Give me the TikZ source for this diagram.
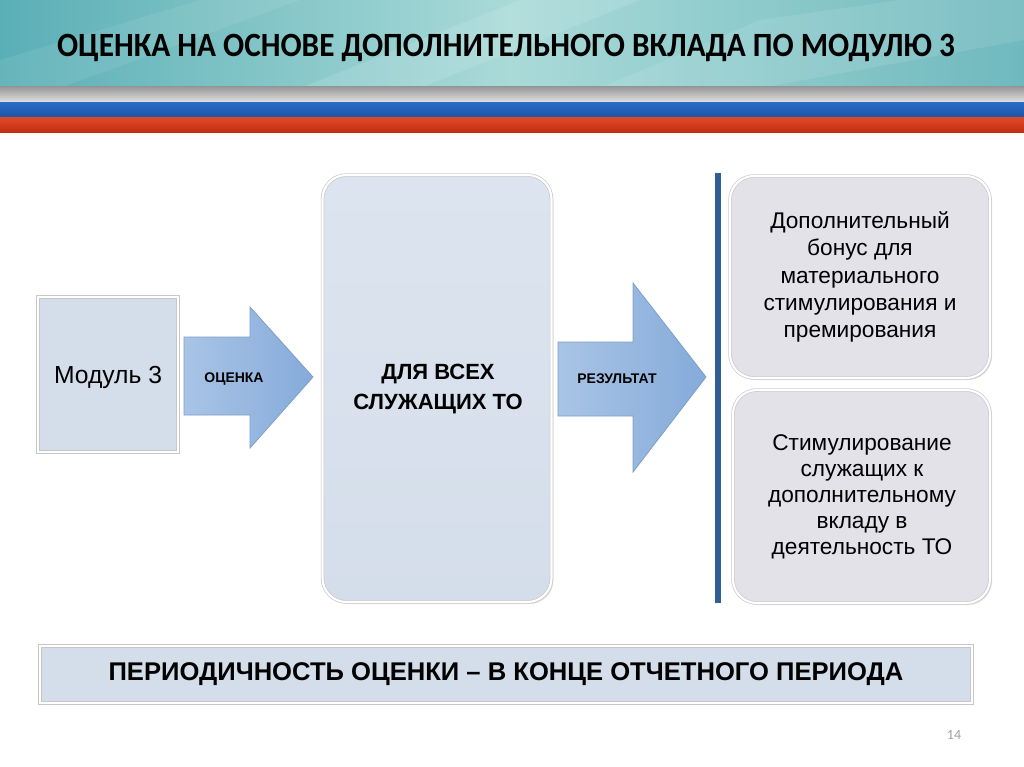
\documentclass[tikz,border=0pt]{standalone}
\usepackage{fontspec}
\setmainfont{Liberation Sans}
\newfontfamily\titlefont{Carlito}
\usepackage{graphicx}
\usetikzlibrary{shadows}
\definecolor{hdrL}{HTML}{5AAFB6}
\definecolor{hdrM}{HTML}{A9DAD8}
\definecolor{hdrR}{HTML}{6FB9BE}
\definecolor{stripeBlueA}{HTML}{2A6CC8}
\definecolor{stripeBlueB}{HTML}{1B55A8}
\definecolor{stripeRedA}{HTML}{DE4A28}
\definecolor{stripeRedB}{HTML}{C42E14}
\definecolor{boxBlue}{HTML}{D4DEEA}
\definecolor{boxBlueTop}{HTML}{DCE4EF}
\definecolor{boxGray}{HTML}{E3E2E9}
\definecolor{arrowL}{HTML}{A9C4E6}
\definecolor{arrowR}{HTML}{85ABDA}
\definecolor{arrowEdge}{HTML}{7F9FC8}
\definecolor{barBlue}{HTML}{2F5E97}
\definecolor{pageGray}{HTML}{A0A0A0}
\tikzset{
  softshadow/.style={drop shadow={opacity=0.25, shadow xshift=1.5pt, shadow yshift=-1.5pt}},
  plainbox/.style={draw=black!22, double=white, double distance=1.6pt, line width=0.5pt, fill=boxBlue, softshadow, inner sep=0pt, align=center},
  roundbox/.style={plainbox, rounded corners=18pt},
  grayround/.style={roundbox, fill=boxGray},
  arrowshape/.style={draw=arrowEdge, line width=0.6pt, left color=arrowL, right color=arrowR},
  arrowtext/.style={font=\bfseries\fontsize{10.5}{12}\selectfont},
  bodytext/.style={font=\fontsize{17}{20.5}\selectfont, align=center}
}
\begin{document}
\begin{tikzpicture}[x=0.75pt,y=-0.75pt]
\useasboundingbox (0,0) rectangle (1024,767);
\fill[white] (0,0) rectangle (1024,767);
% header
\shade[left color=hdrL, right color=hdrR, middle color=hdrM] (0,0) rectangle (1024,88);
\fill[white, opacity=0.12] (300,88) -- (520,0) -- (640,0) -- (420,88) -- cycle;
\fill[white, opacity=0.10] (600,88) -- (760,20) -- (900,0) -- (1024,0) -- (1024,40) -- (760,88) -- cycle;
\fill[white, opacity=0.08] (0,60) -- (200,0) -- (300,0) -- (60,88) -- (0,88) -- cycle;
\shade[top color=black!40, bottom color=black!12] (0,87) rectangle (1024,102);
\shade[top color=stripeBlueA, bottom color=stripeBlueB] (0,102) rectangle (1024,117);
\shade[top color=stripeRedA, bottom color=stripeRedB] (0,117) rectangle (1024,132);
\node (title) at (506,48) {\scalebox{0.92}[1]{\titlefont\bfseries\fontsize{25.5}{30}\selectfont ОЦЕНКА НА ОСНОВЕ ДОПОЛНИТЕЛЬНОГО ВКЛАДА ПО МОДУЛЮ 3}};
% boxes
\node[plainbox, minimum width=0.75pt*140, minimum height=0.75pt*155] (mod) at (108,374.5) {};
\node[font=\fontsize{18.5}{22}\selectfont] (modtext) at (108,377) {Модуль 3};
\node[roundbox, top color=boxBlueTop, bottom color=boxBlue, minimum width=0.75pt*229, minimum height=0.75pt*427] (all) at (437,388.5) {};
\node[font=\bfseries\fontsize{16.5}{22.5}\selectfont, align=center] (alltext) at (438,389) {ДЛЯ ВСЕХ\\СЛУЖАЩИХ ТО};
\node[grayround, minimum width=0.75pt*260, minimum height=0.75pt*202] (r1) at (860,277) {};
\node[bodytext] (r1text) at (860,277) {Дополнительный\\бонус для\\материального\\стимулирования и\\премирования};
\node[grayround, minimum width=0.75pt*257, minimum height=0.75pt*213] (r2) at (861.5,496.5) {};
\node[bodytext, font=\fontsize{17}{19.5}\selectfont] (r2text) at (862,497) {Стимулирование\\служащих к\\дополнительному\\вкладу в\\деятельность ТО};
% vertical bar
\node[fill=barBlue, inner sep=0pt, minimum width=0.75pt*6, minimum height=0.75pt*430] (bar) at (718,388) {};
% arrows
\draw[arrowshape] (184,337) -- (250,337) -- (250,307) -- (313,377) -- (250,448) -- (250,415) -- (184,415) -- cycle;
\node[arrowtext] (a1) at (234,379) {ОЦЕНКА};
\draw[arrowshape] (558,342) -- (633,342) -- (633,283) -- (706,377) -- (633,472) -- (633,416) -- (558,416) -- cycle;
\node[arrowtext] (a2) at (617,379) {РЕЗУЛЬТАТ};
% bottom banner
\node[plainbox, minimum width=0.75pt*932, minimum height=0.75pt*57, font=\bfseries\fontsize{19.2}{22}\selectfont] (banner) at (506,674.5) {ПЕРИОДИЧНОСТЬ ОЦЕНКИ – В КОНЦЕ ОТЧЕТНОГО ПЕРИОДА};
\node[text=pageGray, font=\titlefont\fontsize{10.5}{12}\selectfont] (page) at (954,735) {14};
\end{tikzpicture}
\end{document}
